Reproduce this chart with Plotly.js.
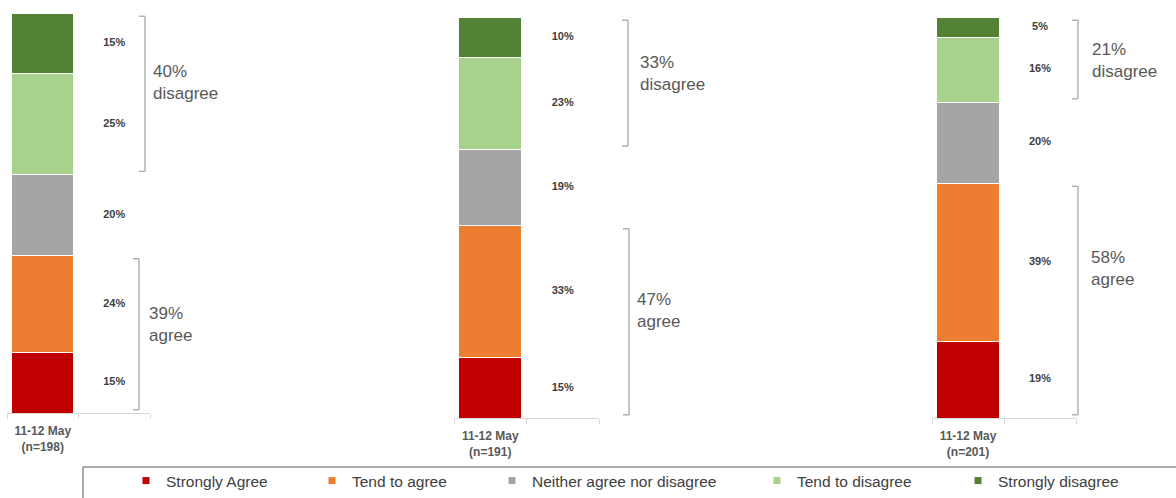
<!DOCTYPE html>
<html><head><meta charset="utf-8">
<script src="https://cdn.plot.ly/plotly-3.0.1.min.js"></script>
<style>html,body{margin:0;padding:0;background:#fff;} #chart{width:1176px;height:498px;}</style>
</head><body><div id="chart"></div>
<script>
// ---- data ----
const categories = ['Strongly Agree', 'Tend to agree', 'Neither agree nor disagree', 'Tend to disagree', 'Strongly disagree'];
const panelLabels = ['11-12 May<br>(n=198)', '11-12 May<br>(n=191)', '11-12 May<br>(n=201)'];
const stronglyAgree = [15, 15, 19];
const tendToAgree = [24, 33, 39];
const neither = [20, 19, 20];
const tendToDisagree = [25, 23, 16];
const stronglyDisagree = [15, 10, 5];
const netAgree = [39, 47, 58];
const netDisagree = [40, 33, 21];
const colors = ['#C00000', '#ED7D31', '#A5A5A5', '#A9D18E', '#548235'];

// ---- layout helpers ----
const W = 1176, H = 498;
const px = x => x / W, py = y => 1 - y / H;
const FONT = 'Liberation Sans, Arial, sans-serif';
const series = [stronglyAgree, tendToAgree, neither, tendToDisagree, stronglyDisagree];
const panels = [
  {xd: [7, 150], yd: [413, 13], bD: 145, bA: 139, tD: [151, 82], tA: [147, 324]},
  {xd: [454, 599], yd: [418, 17], bD: 628, bA: 629, tD: [638, 73], tA: [635, 310]},
  {xd: [932, 1076], yd: [418, 17], bD: 1078, bA: 1078, tD: [1090, 61], tA: [1089, 268]}
];
const legendX = [126, 312, 492, 757, 958];

const traces = [];
const layout = {
  width: W, height: H, margin: {l: 0, r: 0, t: 0, b: 0, pad: 0},
  paper_bgcolor: '#fff', plot_bgcolor: 'rgba(0,0,0,0)',
  barmode: 'stack', showlegend: true,
  font: {family: FONT, color: '#404040'},
  shapes: [], annotations: []
};

panels.forEach((p, i) => {
  const sfx = i ? String(i + 1) : '';
  const xa = 'x' + sfx, ya = 'y' + sfx;
  const vals = series.map(s => s[i]);
  const total = vals.reduce((a, b) => a + b, 0);
  const cum = [];
  let acc = 0;
  vals.forEach(v => { cum.push(acc); acc += v; });

  series.forEach((s, k) => {
    traces.push({
      type: 'bar', x: [panelLabels[i]], y: [s[i]], xaxis: xa, yaxis: ya,
      width: [0.87], name: categories[k], showlegend: false, hoverinfo: 'skip',
      marker: {color: colors[k], line: {color: '#ffffff', width: 1}}
    });
  });
  traces.push({
    type: 'scatter', mode: 'text', xaxis: xa, yaxis: ya, showlegend: false, hoverinfo: 'skip',
    x: vals.map(() => ' '), y: vals.map((v, k) => cum[k] + v / 2),
    text: vals.map(v => v + '%'),
    textfont: {size: 11, color: '#404040', family: FONT, weight: 'bold'}
  });

  layout['xaxis' + sfx] = {
    domain: [px(p.xd[0]), px(p.xd[1])], anchor: ya, type: 'category', automargin: false,
    categoryorder: 'array', categoryarray: [panelLabels[i], ' '], range: [-0.5, 1.5],
    tickson: 'boundaries', ticks: 'outside', ticklen: 5, tickcolor: '#d9d9d9',
    ticklabelstandoff: 7,
    showline: true, linecolor: '#d9d9d9', linewidth: 1, showgrid: false, fixedrange: true,
    tickfont: {size: 12, color: '#595959', family: FONT, weight: 'bold'}
  };
  layout['yaxis' + sfx] = {
    domain: [py(p.yd[0]), py(p.yd[1])], anchor: xa, range: [0, total], automargin: false,
    visible: false, showgrid: false, zeroline: false, fixedrange: true
  };

  // brackets
  const ins = 0.8;
  const dLo = cum[3] + ins, dHi = total - ins;
  const aLo = ins, aHi = cum[2] - ins;
  [[p.bD, dLo, dHi], [p.bA, aLo, aHi]].forEach(([bx, lo, hi]) => {
    const x0 = px(bx - 6), x1 = px(bx);
    layout.shapes.push({type: 'line', xref: 'paper', yref: ya, x0: x1, x1: x1, y0: lo, y1: hi, line: {color: '#a6a6a6', width: 1.3}});
    layout.shapes.push({type: 'line', xref: 'paper', yref: ya, x0: x0, x1: x1, y0: lo, y1: lo, line: {color: '#a6a6a6', width: 1.3}});
    layout.shapes.push({type: 'line', xref: 'paper', yref: ya, x0: x0, x1: x1, y0: hi, y1: hi, line: {color: '#a6a6a6', width: 1.3}});
  });
  layout.annotations.push({
    xref: 'paper', yref: 'paper', x: px(p.tD[0]), y: py(p.tD[1]), xanchor: 'left', yanchor: 'middle',
    align: 'left', showarrow: false, text: netDisagree[i] + '%<br>disagree',
    font: {size: 17, color: '#595959', family: FONT}
  });
  layout.annotations.push({
    xref: 'paper', yref: 'paper', x: px(p.tA[0]), y: py(p.tA[1]), xanchor: 'left', yanchor: 'middle',
    align: 'left', showarrow: false, text: netAgree[i] + '%<br>agree',
    font: {size: 17, color: '#595959', family: FONT}
  });
});

// legend entries (one legend each, placed along the bottom strip)
categories.forEach((c, k) => {
  const key = k ? 'legend' + (k + 1) : 'legend';
  traces.push({
    type: 'scatter', mode: 'markers', x: [null], y: [null], name: c,
    legend: key, showlegend: true, hoverinfo: 'skip',
    marker: {symbol: 'square', size: 7, color: colors[k]}
  });
  layout[key] = {
    orientation: 'h', x: px(legendX[k]), xanchor: 'left', y: 0, yanchor: 'bottom',
    bgcolor: 'rgba(0,0,0,0)', borderwidth: 0,
    font: {size: 15.5, color: '#404040', family: FONT}
  };
});

// legend frame
layout.shapes.push({type: 'rect', xref: 'paper', yref: 'paper', x0: px(83), x1: 1.02, y0: -0.05, y1: py(467),
  line: {color: '#595959', width: 1}, fillcolor: 'rgba(0,0,0,0)'});

Plotly.newPlot('chart', traces, layout, {staticPlot: true, displayModeBar: false});
</script>
</body></html>
